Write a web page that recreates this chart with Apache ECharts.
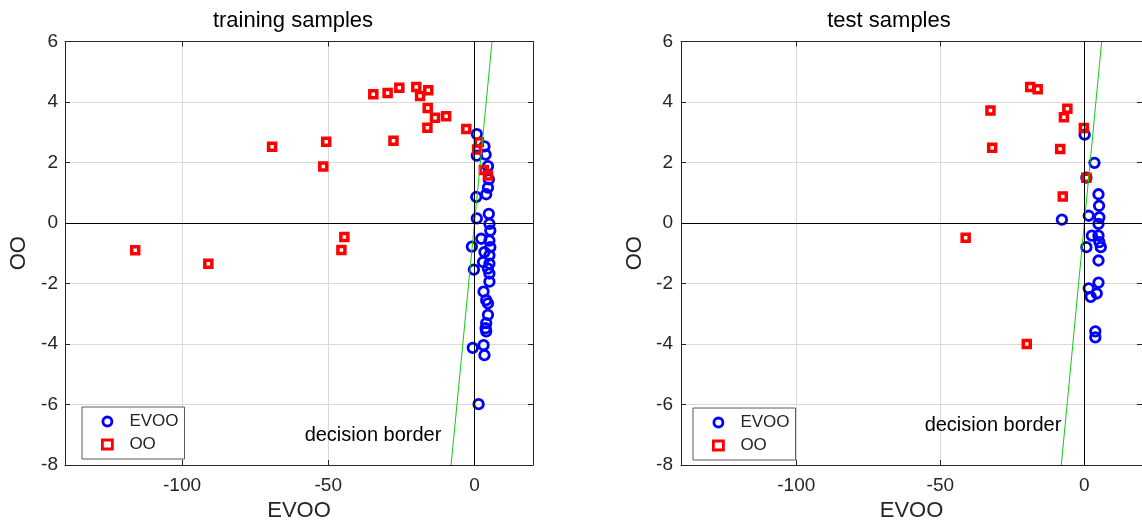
<!DOCTYPE html>
<html>
<head>
<meta charset="utf-8">
<title>training / test samples</title>
<script src="https://cdn.jsdelivr.net/npm/echarts@6/dist/echarts.min.js"></script>
<style>
    html, body { margin: 0; padding: 0; background: #fff; }
    #chart { width: 1142px; height: 527px; }
</style>
</head>
<body>
<div id="chart"></div>
<script>
// axis ranges and ticks
var xRange = [-140, 20];
var yRange = [-8, 6];
var xTicks = [-100, -50, 0];
var yStep = 2;

// decision border (y = x)
var decisionBorder = [[-8, -8], [6, 6]];

// training samples
var trainEVOO = [
    [0.8, 2.94], [3.4, 2.53], [0.8, 2.23], [3.8, 2.26], [4.6, 1.88], [4.9, 1.44],
    [4.6, 1.17], [4.0, 0.95], [0.6, 0.86], [4.9, 0.30], [0.8, 0.15], [5.1, -0.03],
    [5.4, -0.25], [2.3, -0.52], [5.1, -0.58], [-0.9, -0.78], [5.4, -0.80], [3.4, -0.96],
    [5.1, -1.07], [2.9, -1.29], [5.1, -1.34], [-0.2, -1.54], [4.6, -1.51], [5.1, -1.67],
    [5.1, -1.94], [3.1, -2.27], [4.0, -2.55], [4.6, -2.66], [4.6, -3.04], [4.0, -3.31],
    [3.8, -3.48], [4.0, -3.58], [-0.6, -4.13], [3.1, -4.04], [3.4, -4.37], [1.4, -5.99]
];
var trainOO = [
    [-116, -0.9], [-91, -1.35], [-69.2, 2.52], [-51.7, 1.87], [-50.7, 2.69], [-44.5, -0.46],
    [-45.5, -0.89], [-34.6, 4.26], [-29.7, 4.30], [-27.7, 2.72], [-25.7, 4.47], [-19.9, 4.50],
    [-18.6, 4.20], [-15.8, 4.39], [-16.0, 3.80], [-13.5, 3.48], [-9.7, 3.53], [-16.1, 3.15],
    [-2.8, 3.11], [1.5, 2.67], [0.9, 2.43], [3.2, 1.75], [4.6, 1.57]
];

// test samples
var testEVOO = [
    [0.1, 2.92], [3.5, 1.99], [0.7, 1.50], [4.9, 0.95], [5.1, 0.57], [-7.8, 0.11],
    [1.5, 0.24], [5.2, 0.19], [4.9, -0.03], [2.6, -0.42], [4.9, -0.42], [5.2, -0.63],
    [0.7, -0.80], [5.7, -0.80], [4.9, -1.24], [4.9, -1.97], [1.5, -2.16], [4.3, -2.33],
    [2.2, -2.44], [3.8, -3.58], [3.8, -3.78]
];
var testOO = [
    [-41.2, -0.49], [-32.6, 3.72], [-32.0, 2.49], [-20.0, -4.0], [-18.8, 4.50], [-16.2, 4.42],
    [-8.4, 2.45], [-7.5, 0.88], [-7.1, 3.50], [-5.9, 3.78], [-0.2, 3.14], [0.7, 1.50]
];

var FONT = "'Liberation Sans', Arial, Helvetica, sans-serif";
var AXIS_COLOR = '#262626';

/**
 * 生成x轴（主轴 + 顶部框线轴）
 */
function makeXAxes(gridIndex) {
    var main = {
        type: 'value', gridIndex: gridIndex, position: 'bottom',
        min: xRange[0], max: xRange[1],
        name: 'EVOO', nameLocation: 'middle', nameGap: 35,
        nameTextStyle: { fontFamily: FONT, fontSize: 22, color: AXIS_COLOR },
        axisLine: { onZero: false, lineStyle: { color: AXIS_COLOR, width: 1 } },
        axisTick: { inside: true, length: 5, customValues: xTicks, lineStyle: { color: AXIS_COLOR } },
        axisLabel: { customValues: xTicks, margin: 11, fontFamily: FONT, fontSize: 19, color: AXIS_COLOR },
        splitLine: { show: true, lineStyle: { color: '#dadada', width: 1 } }
    };
    var top = {
        type: 'value', gridIndex: gridIndex, position: 'top',
        min: xRange[0], max: xRange[1],
        axisLine: { onZero: false, lineStyle: { color: AXIS_COLOR, width: 1 } },
        axisTick: { inside: true, length: 5, customValues: xTicks, lineStyle: { color: AXIS_COLOR } },
        axisLabel: { show: false },
        splitLine: { show: false }
    };
    return [main, top];
}

/**
 * 生成y轴（主轴 + 右侧框线轴）
 */
function makeYAxes(gridIndex, margin) {
    var main = {
        type: 'value', gridIndex: gridIndex, position: 'left',
        min: yRange[0], max: yRange[1], interval: yStep,
        name: 'OO', nameLocation: 'middle', nameGap: 35, nameRotate: 90,
        nameTextStyle: { fontFamily: FONT, fontSize: 22, color: AXIS_COLOR },
        axisLine: { onZero: false, lineStyle: { color: AXIS_COLOR, width: 1 } },
        axisTick: { inside: true, length: 5, lineStyle: { color: AXIS_COLOR } },
        axisLabel: { margin: margin, fontFamily: FONT, fontSize: 19, color: AXIS_COLOR },
        splitLine: { show: true, lineStyle: { color: '#dadada', width: 1 } }
    };
    var right = {
        type: 'value', gridIndex: gridIndex, position: 'right',
        min: yRange[0], max: yRange[1], interval: yStep,
        axisLine: { onZero: false, lineStyle: { color: AXIS_COLOR, width: 1 } },
        axisTick: { inside: true, length: 5, lineStyle: { color: AXIS_COLOR } },
        axisLabel: { show: false },
        splitLine: { show: false }
    };
    return [main, right];
}

function scatterSeries(name, data, idx) {
    var isEVOO = name === 'EVOO';
    return {
        name: name, type: 'scatter', xAxisIndex: idx * 2, yAxisIndex: idx * 2,
        data: data, z: 3,
        symbol: isEVOO ? 'circle' : 'rect',
        symbolSize: isEVOO ? 9.5 : 7,
        itemStyle: {
            color: 'rgba(255,255,255,0)',
            borderColor: isEVOO ? '#0000ff' : '#ff0000',
            borderWidth: isEVOO ? 2.8 : 3.5,
            opacity: 1
        },
        emphasis: { disabled: true }
    };
}

function borderSeries(idx) {
    return {
        name: 'decision', type: 'line', xAxisIndex: idx * 2, yAxisIndex: idx * 2,
        data: decisionBorder, showSymbol: false, symbol: 'none', z: 4,
        lineStyle: { color: '#11cc11', width: 1 },
        markLine: {
            silent: true, symbol: 'none', label: { show: false },
            lineStyle: { color: '#000', type: 'solid', width: 1 },
            data: [{ xAxis: 0 }, { yAxis: 0 }]
        }
    };
}

function legendFor(left, top) {
    return {
        left: left, top: top, orient: 'vertical',
        data: ['EVOO', 'OO'], selectedMode: false,
        backgroundColor: '#fff', borderColor: '#5a5a5a', borderWidth: 1,
        padding: [6, 6, 6, 19], itemGap: 6, itemWidth: 10, itemHeight: 9,
        itemStyle: { borderWidth: 2.8 },
        textStyle: { fontFamily: FONT, fontSize: 17, color: AXIS_COLOR, padding: [0, 0, 0, 12] }
    };
}

function textEl(str, x, y, size) {
    return {
        type: 'text', x: x, y: y, z: 10,
        style: {
            text: str, fontFamily: FONT, fontSize: size, fill: '#000',
            textAlign: 'center', textVerticalAlign: 'middle'
        }
    };
}

var chart = echarts.init(document.getElementById('chart'), null, { renderer: 'canvas' });

var option = {
    backgroundColor: '#fff',
    animation: false,
    grid: [
        { left: 65, top: 41.5, width: 468, height: 427 },
        { left: 681, top: 41.5, width: 468, height: 427 }
    ],
    xAxis: makeXAxes(0).concat(makeXAxes(1)),
    yAxis: makeYAxes(0, 7).concat(makeYAxes(1, 8)),
    legend: [legendFor(82, 407), legendFor(693, 408)],
    graphic: [
        textEl('training samples', 293, 21, 22),
        textEl('test samples', 889, 21, 22),
        textEl('decision border', 373, 435, 20),
        textEl('decision border', 993, 425, 20)
    ],
    series: [
        borderSeries(0),
        scatterSeries('EVOO', trainEVOO, 0),
        scatterSeries('OO', trainOO, 0),
        borderSeries(1),
        scatterSeries('EVOO', testEVOO, 1),
        scatterSeries('OO', testOO, 1)
    ]
};

chart.setOption(option);
</script>
</body>
</html>
